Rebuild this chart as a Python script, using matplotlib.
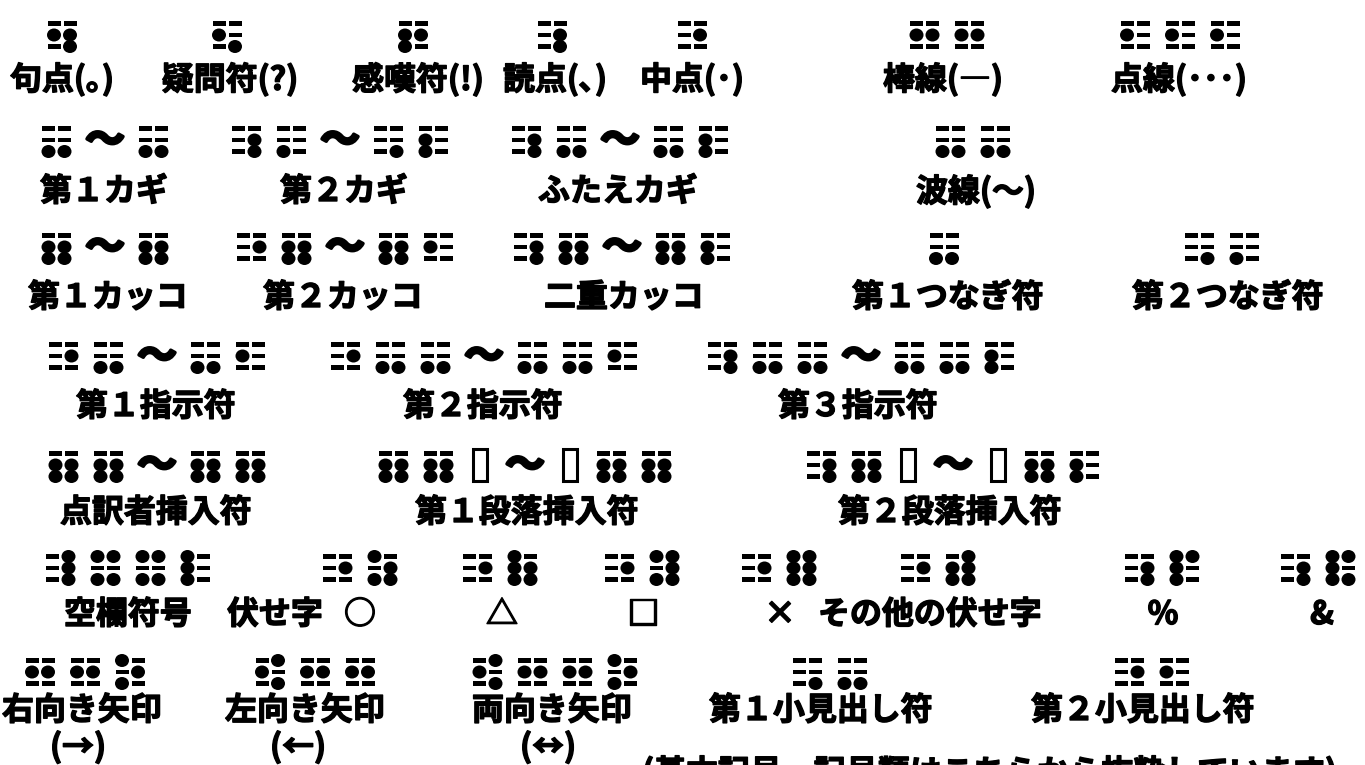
import matplotlib
matplotlib.use("Agg")
import matplotlib.pyplot as plt
from matplotlib.patches import Ellipse, Rectangle
import matplotlib.patheffects as pe

plt.rcParams['font.family'] = ['Noto Sans CJK JP', 'DejaVu Sans']

# ---------------- data ----------------
# braille codes: dot numbers per cell, "~" = wave, "B" = box placeholder
row1_labels = ["句点(｡)", "疑問符(?)", "感嘆符(!)", "読点(､)", "中点(･)", "棒線(―)", "点線(･･･)"]
row1_codes = ["256", "26", "235", "56", "5", "25 25", "2 2 2"]

row2_labels = ["第１カギ", "第２カギ", "ふたえカギ", "波線(～)"]
row2_codes = ["36 ~ 36", "56 3 ~ 6 23", "56 36 ~ 36 23", "36 36"]

row3_labels = ["第１カッコ", "第２カッコ", "二重カッコ", "第１つなぎ符", "第２つなぎ符"]
row3_codes = ["2356 ~ 2356", "5 2356 ~ 2356 2", "56 2356 ~ 2356 23", "36", "6 3"]

row4_labels = ["第１指示符", "第２指示符", "第３指示符"]
row4_codes = ["5 36 ~ 36 2", "5 36 36 ~ 36 36 2", "56 36 36 ~ 36 36 23"]

row5_labels = ["点訳者挿入符", "第１段落挿入符", "第２段落挿入符"]
row5_codes = ["2356 2356 ~ 2356 2356", "2356 2356 B ~ B 2356 2356", "56 2356 B ~ B 2356 23"]

row6_labels = ["空欄符号", "○", "△", "□", "×", "その他の伏せ字", "%", "&"]
row6_codes = ["456 1346 1346 123", "5 1356", "5 12356", "5 13456", "5 123456", "5 23456", "56 1234", "56 12346"]
row6_extra_label = "伏せ字"

row7_labels = ["右向き矢印", "左向き矢印", "両向き矢印", "第１小見出し符", "第２小見出し符"]
row7_sublabels = ["(→)", "(←)", "(↔)"]
row7_codes = ["25 25 135", "246 25 25", "246 25 25 135", "6 36", "5 2"]

footnote = "(基本記号・記号類はこちらから抜粋しています)"

# ---------------- layout (pixels) ----------------
rows = [
    (row1_labels, row1_codes, [62, 227, 413, 552, 692, 947, 1180], [62, 230, 418, 555, 692, 943, 1179], 35, 80),
    (row2_labels, row2_codes, [105, 340, 620, 973], [104, 344, 618, 976], 140, 192),
    (row3_labels, row3_codes, [105, 345, 622, 944, 1222], [108, 343, 624, 948, 1228], 247, 298),
    (row4_labels, row4_codes, [157, 484, 861], [156, 483, 858], 356, 407),
    (row5_labels, row5_codes, [157, 525, 953], [156, 527, 950], 465, 513),
    (row6_labels, row6_codes, [128, 360, 500, 642, 779, 938, 1162, 1318],
     [128, 360, 502, 643, 780, 930, 1163, 1322], 568, 615),
    (row7_labels, row7_codes, [85, 315, 555, 830, 1152], [82, 305, 552, 821, 1143], 672, 711),
]
row6_extra_x = 275
row7_sub_x = [78, 298, 548]
row7_sub_y = 748

W, H = 1365, 765
fig = plt.figure(figsize=(W / 100, H / 100), dpi=100)
ax = fig.add_axes([0, 0, 1, 1])
ax.set_xlim(0, W)
ax.set_ylim(H, 0)
ax.axis('off')

COL = 8.0      # half column spacing
ROW = 11.5     # row spacing
DOT_W, DOT_H = 14, 13
DASH_W, DASH_H = 13, 4.5
HALF = {"cell": 14.5, "~": 18, "B": 11}
GAP = 16
FS = 23
bold = [pe.withStroke(linewidth=1.0, foreground='black')]
tbold = [pe.withStroke(linewidth=2.5, foreground='black')]


def draw_cell(cx, cy, dots):
    for i in range(6):
        col = i // 3
        r = i % 3
        x = cx + (-COL if col == 0 else COL)
        y = cy + (r - 1) * ROW
        if str(i + 1) in dots:
            ax.add_patch(Ellipse((x, y), DOT_W, DOT_H, color='black', lw=0))
        else:
            ax.add_patch(Rectangle((x - DASH_W / 2, y - DASH_H / 2), DASH_W, DASH_H, color='black', lw=0))


def kind(tok):
    return tok if tok in ("~", "B") else "cell"


def draw_group(code, gx, gy):
    toks = code.split()
    pos = [0.0]
    for a, b in zip(toks[:-1], toks[1:]):
        pos.append(pos[-1] + HALF[kind(a)] + GAP + HALF[kind(b)])
    off = gx - (pos[0] + pos[-1]) / 2
    for t, p in zip(toks, pos):
        x = p + off
        k = kind(t)
        if k == "cell":
            draw_cell(x, gy, t)
        elif k == "~":
            ax.text(x, gy + 1, "〜", ha='center', va='center', fontsize=28, fontweight='bold',
                    path_effects=tbold)
        else:
            ax.add_patch(Rectangle((x - 7, gy - 16), 14, 32, fill=False, ec='black', lw=2.2))


for labels, codes, gxs, lxs, by, ly in rows:
    for lab, code, gx, lx in zip(labels, codes, gxs, lxs):
        draw_group(code, gx, by)
        ax.text(lx, ly, lab, ha='center', va='center', fontsize=FS, fontweight='bold',
                path_effects=bold)

ax.text(row6_extra_x, rows[5][5], row6_extra_label, ha='center', va='center', fontsize=FS,
        fontweight='bold', path_effects=bold)
for sx, sl in zip(row7_sub_x, row7_sublabels):
    ax.text(sx, row7_sub_y, sl, ha='center', va='center', fontsize=FS, fontweight='bold', path_effects=bold)
ax.text(990, 756, footnote, ha='center', va='top', fontsize=FS, fontweight='bold', path_effects=bold)

fig.savefig("out.png", dpi=100, facecolor='white')
